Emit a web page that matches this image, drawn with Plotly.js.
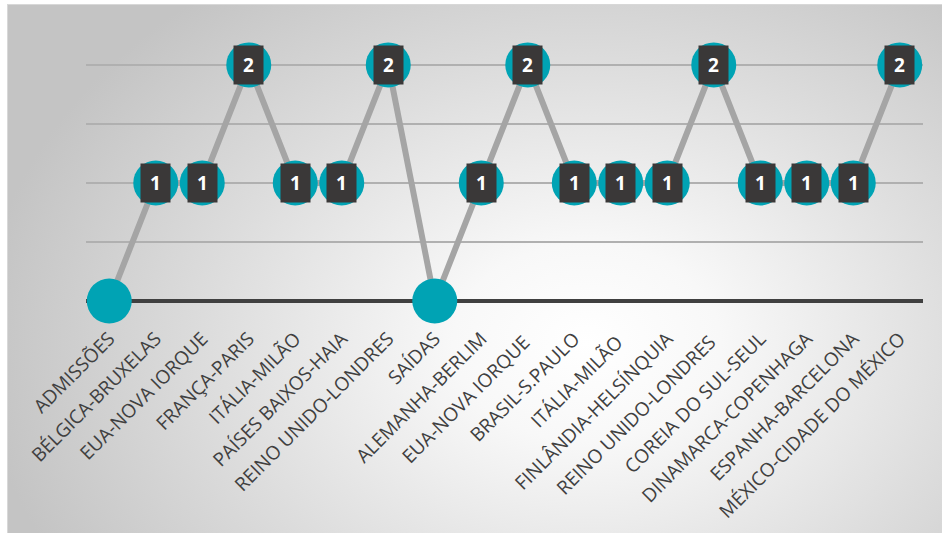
<!DOCTYPE html>
<html>
<head>
<meta charset="utf-8">
<script src="https://cdn.plot.ly/plotly-3.0.1.min.js"></script>
<style>
  html, body { margin: 0; padding: 0; background: #ffffff; width: 942px; height: 533px; overflow: hidden; }
  #frame {
    position: absolute; left: 7px; top: 4px; width: 935px; height: 529px;
    background: radial-gradient(ellipse 65% 85% at 62% 64%, #ffffff 0%, #f8f8f8 22%, #dddddd 62%, #c4c4c4 100%);
    border-top: 1px solid #d8d8d8; border-left: 1px solid #d8d8d8;
    box-sizing: border-box;
  }
  #chart { position: absolute; left: 0; top: 0; width: 935px; height: 529px; }
</style>
</head>
<body>
<div id="frame"><div id="chart"></div></div>
<script>
const categories = [
  "ADMISSÕES", "BÉLGICA-BRUXELAS", "EUA-NOVA IORQUE", "FRANÇA-PARIS", "ITÁLIA-MILÃO",
  "PAÍSES BAIXOS-HAIA", "REINO UNIDO-LONDRES", "SAÍDAS", "ALEMANHA-BERLIM",
  "EUA-NOVA IORQUE ", "BRASIL-S.PAULO", "ITÁLIA-MILÃO ", "FINLÂNDIA-HELSÍNQUIA",
  "REINO UNIDO-LONDRES ", "COREIA DO SUL-SEUL", "DINAMARCA-COPENHAGA",
  "ESPANHA-BARCELONA", "MÉXICO-CIDADE DO MÉXICO"
];
const values = [0, 1, 1, 2, 1, 1, 2, 0, 1, 2, 1, 1, 1, 2, 1, 1, 1, 2];

const trace = {
  x: categories,
  y: values,
  type: "scatter",
  mode: "lines+markers",
  line: { color: "#a5a5a5", width: 6 },
  marker: { size: 45, color: "#00a3b4", line: { width: 0 } },
  hoverinfo: "skip",
  cliponaxis: false
};

const annotations = categories.map((c, i) => values[i] > 0 ? {
  x: c, y: values[i], xref: "x", yref: "y",
  text: "<b>" + values[i] + "</b>",
  showarrow: false,
  font: { family: "Open Sans, sans-serif", size: 19, color: "#ffffff" },
  bgcolor: "#3a3838",
  width: 29, height: 38, borderpad: 0,
  xanchor: "center", yanchor: "middle"
} : null).filter(a => a);

const layout = {
  width: 935, height: 529,
  margin: { l: 78, r: 20, t: 54, b: 233 },
  paper_bgcolor: "rgba(0,0,0,0)",
  plot_bgcolor: "rgba(0,0,0,0)",
  showlegend: false,
  xaxis: {
    type: "category",
    range: [-0.5, 17.5],
    autorange: false,
    automargin: false,
    tickangle: -45,
    ticklabelstandoff: 22,
    tickfont: { family: "Open Sans, sans-serif", size: 19, color: "#404040" },
    showgrid: false, zeroline: false, showline: false,
    ticks: "", ticklen: 0
  },
  yaxis: {
    range: [0, 2.05],
    autorange: false,
    automargin: false,
    tick0: 0,
    dtick: 0.5,
    showticklabels: false,
    showgrid: true, gridcolor: "#b0b0b0", gridwidth: 1.5,
    zeroline: true, zerolinecolor: "#404040", zerolinewidth: 4,
    showline: false, ticks: ""
  },
  annotations: annotations
};

Plotly.newPlot("chart", [trace], layout, { displayModeBar: false, staticPlot: true });
</script>
</body>
</html>
